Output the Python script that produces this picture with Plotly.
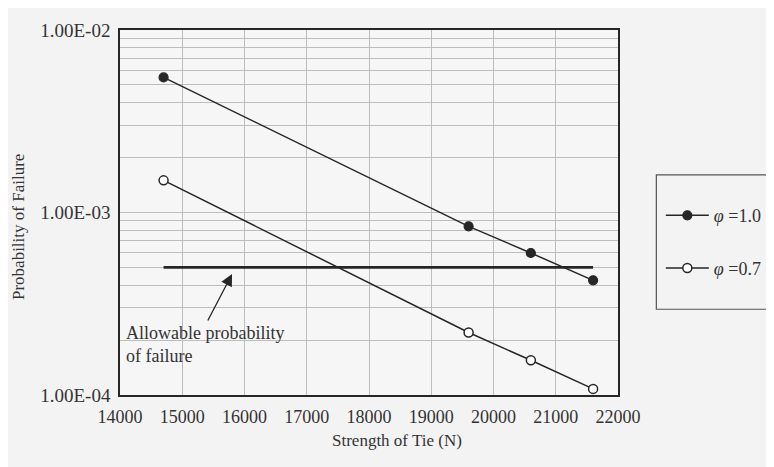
import plotly.graph_objects as go
import math

strength = [14700, 19600, 20600, 21600]
pf_phi10 = [5.5e-3, 8.4e-4, 6.0e-4, 4.25e-4]
pf_phi07 = [1.5e-3, 2.2e-4, 1.55e-4, 1.08e-4]
allow_x = [14700, 21600]
allow_pf = [5.0e-4, 5.0e-4]
x_ticks = [14000, 15000, 16000, 17000, 18000, 19000, 20000, 21000, 22000]
x_ticktext = ["14000", "15000", "16000", "17000", "18000", "19000", "20000", "21000", "22000"]
y_ticks = [1e-4, 1e-3, 1e-2]
y_ticktext = ["1.00E-04", "1.00E-03", "1.00E-02"]

ink = "#262626"
grid = "#bdbdbd"
txt = "#333333"
serif = "Liberation Serif"

fig = go.Figure()
fig.add_trace(go.Scatter(
    x=strength, y=pf_phi10, mode="lines+markers", name="<i>φ</i> =1.0",
    legend="legend",
    line=dict(color=ink, width=1.5),
    marker=dict(symbol="circle", size=9, color=ink, line=dict(color=ink, width=1.2)),
))
fig.add_trace(go.Scatter(
    x=strength, y=pf_phi07, mode="lines+markers", name="<i>φ</i> =0.7",
    legend="legend2",
    line=dict(color=ink, width=1.5),
    marker=dict(symbol="circle", size=9, color="white", line=dict(color=ink, width=1.5)),
))
fig.add_trace(go.Scatter(
    x=allow_x, y=allow_pf, mode="lines", showlegend=False,
    line=dict(color=ink, width=2.8),
))

fig.add_annotation(x=15800, y=math.log10(4.6e-4), ax=-25, ay=48,
                   axref="pixel", ayref="pixel", text="", showarrow=True,
                   arrowhead=2, arrowsize=1.8, arrowwidth=1.3, arrowcolor=ink)
fig.add_annotation(x=14070, y=math.log10(1.9e-4),
                   text="Allowable probability<br>of failure",
                   showarrow=False, xanchor="left", yanchor="middle", align="left",
                   font=dict(family=serif, size=18, color=txt))

# axis titles
fig.add_annotation(xref="paper", yref="paper", x=0.556, y=-0.125,
                   text="Strength of Tie (N)", showarrow=False,
                   xanchor="center", yanchor="middle",
                   font=dict(family=serif, size=17, color=txt))
fig.add_annotation(xref="paper", yref="paper", x=-0.205, y=0.46,
                   text="Probability of Failure", showarrow=False, textangle=-90,
                   xanchor="center", yanchor="middle",
                   font=dict(family=serif, size=17, color=txt))

# legend frame
fig.add_shape(type="rect", xref="paper", yref="paper",
              x0=1.077, x1=1.31, y0=0.235, y1=0.603,
              line=dict(color="#555555", width=1.2), fillcolor="rgba(0,0,0,0)")

leg_common = dict(xanchor="left", yanchor="top", bgcolor="rgba(0,0,0,0)",
                  borderwidth=0, itemwidth=43,
                  font=dict(family=serif, size=18, color=txt))

fig.update_layout(
    width=774, height=467,
    margin=dict(l=112, r=164, t=12, b=80),
    paper_bgcolor="#f3f3f3", plot_bgcolor="#f6f6f6",
    font=dict(family=serif, size=18, color=txt),
    showlegend=True,
    legend=dict(x=1.086, y=0.542, **leg_common),
    legend2=dict(x=1.086, y=0.398, **leg_common),
    xaxis=dict(range=[14000, 22000], tickvals=x_ticks, ticktext=x_ticktext,
               showgrid=True, gridcolor=grid, gridwidth=1, zeroline=False,
               showline=True, linecolor=ink, linewidth=1.5, mirror=True,
               ticks="", ticklabelstandoff=5,
               tickfont=dict(family=serif, size=18, color=txt)),
    yaxis=dict(type="log", range=[-4, -2], tickvals=y_ticks, ticktext=y_ticktext,
               showgrid=True, gridcolor=grid, zeroline=False,
               minor=dict(showgrid=True, gridcolor=grid, dtick="D1", ticks=""),
               showline=True, linecolor=ink, linewidth=1.5, mirror=True,
               ticks="", ticklabelstandoff=4,
               tickfont=dict(family=serif, size=19, color=txt)),
)

fig.write_html("out.html")
